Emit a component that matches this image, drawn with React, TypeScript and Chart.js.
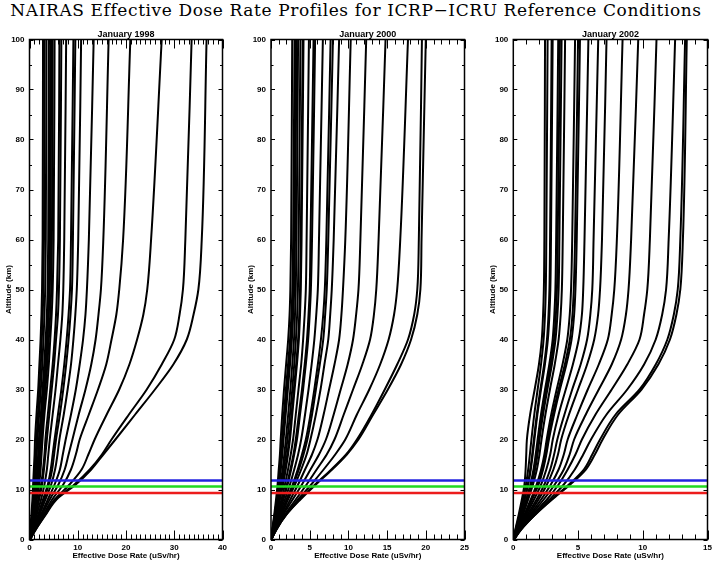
import React, { useEffect, useRef } from 'react';
import { Chart, registerables } from 'chart.js';

Chart.register(...registerables);

// ---------------- data ----------------
const MAIN_TITLE = 'NAIRAS Effective Dose Rate Profiles for ICRP\u2212ICRU Reference Conditions';
const PANEL_TITLES = ['January 1998', 'January 2000', 'January 2002'];
const X_AXIS_TITLE = 'Effective Dose Rate (uSv/hr)';
const Y_AXIS_TITLE = 'Altitude (km)';

const ALTITUDES_KM = [0, 2, 5, 8, 11, 14, 17, 20, 25, 30, 35, 40, 45, 50, 60, 100];

const X_MAX = [40, 25, 15];
const X_MAJOR_STEP = [10, 5, 5];
const X_MINOR_STEP = 1;
const Y_MAX = 100;
const Y_MAJOR_STEP = 10;
const Y_MINOR_STEP = 5;

const REF_LINE_ALTITUDES = [11.8, 10.6, 9.3];
const REF_LINE_COLORS = ['#2323e0', '#22d822', '#ec1c1c'];

// effective dose rate (uSv/hr) at ALTITUDES_KM, one row per profile
const DOSE_1998 = [
  [0.1, 1.3, 3.4, 5.6, 9.6, 12.8, 15.3, 17.8, 21.9, 26.0, 29.8, 32.6, 34.0, 35.0, 35.7, 36.7],
  [0.1, 1.3, 3.3, 5.4, 9.3, 12.5, 15.0, 17.0, 20.6, 24.3, 27.4, 30.0, 31.1, 31.8, 32.3, 33.6],
  [0.1, 1.2, 3.1, 5.2, 8.3, 10.8, 12.2, 13.5, 16.0, 18.6, 20.7, 22.3, 23.6, 24.4, 25.2, 27.4],
  [0.1, 1.1, 2.9, 4.7, 7.0, 8.6, 9.6, 10.4, 12.3, 14.2, 15.9, 17.0, 18.0, 18.6, 19.4, 20.9],
  [0.1, 1.0, 2.6, 4.2, 6.0, 7.3, 8.1, 8.9, 10.2, 11.6, 12.8, 13.7, 14.3, 14.8, 15.3, 16.4],
  [0.1, 0.9, 2.4, 3.8, 5.2, 6.3, 6.9, 7.5, 8.6, 9.6, 10.4, 11.1, 11.6, 11.9, 12.3, 13.3],
  [0.08, 0.8, 2.1, 3.3, 4.5, 5.3, 5.8, 6.2, 7.1, 7.9, 8.6, 9.1, 9.5, 9.8, 10.1, 10.7],
  [0.08, 0.75, 1.9, 3.0, 4.0, 4.7, 5.1, 5.5, 6.3, 7.0, 7.6, 8.1, 8.5, 8.8, 9.0, 9.5],
  [0.08, 0.7, 1.8, 2.8, 3.8, 4.4, 4.8, 5.2, 5.9, 6.6, 7.2, 7.7, 8.1, 8.4, 8.6, 9.1],
  [0.07, 0.6, 1.5, 2.4, 3.1, 3.6, 3.9, 4.2, 4.8, 5.4, 5.9, 6.4, 6.8, 7.0, 7.2, 7.6],
  [0.06, 0.5, 1.3, 2.0, 2.6, 3.0, 3.3, 3.6, 4.1, 4.6, 5.1, 5.5, 5.9, 6.1, 6.3, 6.6],
  [0.06, 0.45, 1.2, 1.8, 2.4, 2.8, 3.1, 3.3, 3.8, 4.3, 4.8, 5.2, 5.5, 5.7, 5.95, 6.2],
  [0.05, 0.4, 1.0, 1.5, 2.0, 2.3, 2.5, 2.7, 3.1, 3.6, 4.0, 4.3, 4.6, 4.8, 5.0, 5.2],
  [0.05, 0.35, 0.9, 1.4, 1.8, 2.1, 2.3, 2.5, 2.9, 3.3, 3.7, 4.0, 4.3, 4.5, 4.65, 4.8],
  [0.05, 0.3, 0.8, 1.25, 1.6, 1.9, 2.1, 2.3, 2.7, 3.1, 3.45, 3.75, 4.0, 4.2, 4.35, 4.5],
  [0.04, 0.28, 0.75, 1.15, 1.5, 1.75, 1.95, 2.15, 2.55, 2.95, 3.3, 3.6, 3.85, 4.0, 4.15, 4.3],
  [0.04, 0.25, 0.68, 1.05, 1.35, 1.6, 1.8, 1.95, 2.35, 2.7, 3.05, 3.35, 3.6, 3.75, 3.88, 4.0],
  [0.04, 0.22, 0.58, 0.9, 1.15, 1.35, 1.5, 1.65, 2.0, 2.35, 2.65, 2.9, 3.1, 3.25, 3.38, 3.5],
  [0.03, 0.18, 0.5, 0.75, 0.95, 1.15, 1.3, 1.45, 1.75, 2.05, 2.35, 2.55, 2.75, 2.88, 3.0, 3.1],
  [0.03, 0.15, 0.4, 0.6, 0.75, 0.9, 1.05, 1.15, 1.45, 1.8, 2.05, 2.3, 2.48, 2.6, 2.72, 2.8],
];

const DOSE_2000 = [
  [0.05, 0.7, 2.0, 3.8, 5.8, 7.9, 9.8, 11.3, 13.2, 15.1, 16.8, 18.1, 18.9, 19.3, 19.45, 20.0],
  [0.05, 0.7, 2.0, 3.7, 5.7, 7.8, 9.7, 11.1, 13.0, 14.7, 16.3, 17.7, 18.5, 18.9, 19.1, 19.5],
  [0.05, 0.7, 1.9, 3.5, 5.2, 6.8, 8.3, 9.6, 11.1, 12.7, 14.1, 15.2, 15.9, 16.3, 16.7, 17.7],
  [0.05, 0.65, 1.8, 3.2, 4.6, 5.9, 7.2, 8.2, 9.4, 10.6, 11.8, 12.8, 13.3, 13.6, 13.9, 14.8],
  [0.05, 0.6, 1.6, 2.8, 4.0, 5.1, 6.2, 7.1, 8.1, 9.0, 9.9, 10.6, 11.0, 11.3, 11.55, 12.3],
  [0.05, 0.55, 1.5, 2.5, 3.5, 4.4, 5.3, 6.0, 6.8, 7.5, 8.2, 8.8, 9.1, 9.3, 9.6, 10.3],
  [0.05, 0.5, 1.35, 2.2, 3.1, 3.9, 4.6, 5.1, 5.8, 6.4, 6.9, 7.4, 7.65, 7.85, 8.1, 8.8],
  [0.05, 0.48, 1.3, 2.1, 2.9, 3.6, 4.2, 4.7, 5.3, 5.8, 6.3, 6.75, 7.0, 7.2, 7.4, 8.0],
  [0.05, 0.46, 1.25, 2.0, 2.8, 3.45, 4.0, 4.5, 5.1, 5.6, 6.05, 6.45, 6.75, 6.95, 7.15, 7.7],
  [0.04, 0.42, 1.1, 1.8, 2.45, 3.0, 3.5, 3.9, 4.4, 4.85, 5.25, 5.6, 5.85, 6.05, 6.2, 6.7],
  [0.04, 0.38, 1.0, 1.6, 2.15, 2.6, 3.0, 3.35, 3.75, 4.15, 4.5, 4.8, 5.0, 5.15, 5.3, 5.7],
  [0.04, 0.36, 0.95, 1.5, 2.05, 2.5, 2.9, 3.2, 3.6, 4.0, 4.35, 4.65, 4.85, 5.0, 5.1, 5.5],
  [0.04, 0.32, 0.85, 1.35, 1.8, 2.2, 2.55, 2.85, 3.2, 3.55, 3.9, 4.15, 4.35, 4.5, 4.6, 4.9],
  [0.03, 0.28, 0.75, 1.15, 1.55, 1.9, 2.2, 2.45, 2.75, 3.05, 3.35, 3.6, 3.75, 3.85, 3.95, 4.2],
  [0.03, 0.27, 0.72, 1.1, 1.5, 1.82, 2.1, 2.35, 2.65, 2.95, 3.25, 3.5, 3.65, 3.75, 3.85, 4.1],
  [0.03, 0.25, 0.66, 1.0, 1.35, 1.65, 1.9, 2.12, 2.45, 2.75, 3.0, 3.22, 3.38, 3.48, 3.58, 3.8],
  [0.03, 0.23, 0.6, 0.92, 1.22, 1.5, 1.72, 1.92, 2.22, 2.5, 2.75, 2.97, 3.1, 3.2, 3.3, 3.5],
  [0.03, 0.21, 0.53, 0.82, 1.06, 1.27, 1.46, 1.62, 1.9, 2.18, 2.46, 2.7, 2.87, 3.0, 3.1, 3.3],
  [0.03, 0.2, 0.5, 0.78, 1.0, 1.2, 1.37, 1.52, 1.77, 2.05, 2.33, 2.58, 2.75, 2.88, 2.98, 3.17],
  [0.03, 0.19, 0.48, 0.74, 0.96, 1.14, 1.3, 1.43, 1.66, 1.92, 2.2, 2.46, 2.64, 2.76, 2.86, 3.04],
  [0.03, 0.17, 0.42, 0.65, 0.85, 1.0, 1.15, 1.25, 1.45, 1.68, 1.95, 2.22, 2.4, 2.5, 2.6, 2.74],
];

const DOSE_2002 = [
  [0.05, 0.6, 1.7, 3.0, 4.4, 5.6, 6.3, 6.9, 8.1, 9.9, 11.2, 12.1, 12.6, 12.9, 13.1, 13.4],
  [0.05, 0.6, 1.7, 2.95, 4.3, 5.45, 6.1, 6.7, 7.9, 9.75, 11.0, 11.9, 12.4, 12.7, 12.9, 13.27],
  [0.05, 0.58, 1.6, 2.8, 3.9, 4.75, 5.4, 6.0, 7.2, 8.8, 10.1, 11.0, 11.5, 11.8, 12.0, 12.5],
  [0.05, 0.55, 1.5, 2.6, 3.5, 4.2, 4.8, 5.3, 6.35, 7.6, 8.8, 9.75, 10.1, 10.35, 10.55, 11.06],
  [0.05, 0.5, 1.4, 2.35, 3.2, 3.9, 4.35, 4.7, 5.6, 6.6, 7.6, 8.33, 8.7, 8.9, 9.1, 9.65],
  [0.05, 0.46, 1.3, 2.15, 2.9, 3.5, 3.9, 4.2, 4.95, 5.75, 6.6, 7.3, 7.6, 7.8, 8.0, 8.44],
  [0.05, 0.43, 1.2, 1.95, 2.6, 3.1, 3.45, 3.7, 4.3, 5.0, 5.7, 6.25, 6.55, 6.7, 6.85, 7.2],
  [0.04, 0.4, 1.1, 1.8, 2.4, 2.85, 3.15, 3.4, 3.95, 4.55, 5.2, 5.7, 5.95, 6.1, 6.2, 6.56],
  [0.04, 0.37, 1.0, 1.6, 2.15, 2.55, 2.85, 3.05, 3.5, 4.05, 4.6, 5.05, 5.3, 5.4, 5.5, 5.8],
  [0.04, 0.34, 0.92, 1.45, 1.95, 2.3, 2.55, 2.75, 3.15, 3.6, 4.1, 4.5, 4.7, 4.8, 4.9, 5.15],
  [0.04, 0.33, 0.9, 1.4, 1.9, 2.25, 2.5, 2.68, 3.05, 3.5, 3.98, 4.37, 4.57, 4.67, 4.77, 5.0],
  [0.04, 0.32, 0.86, 1.35, 1.8, 2.15, 2.4, 2.58, 2.93, 3.35, 3.8, 4.17, 4.36, 4.46, 4.55, 4.77],
  [0.03, 0.28, 0.75, 1.15, 1.52, 1.82, 2.02, 2.18, 2.48, 2.83, 3.2, 3.5, 3.66, 3.75, 3.82, 4.0],
  [0.03, 0.26, 0.7, 1.08, 1.42, 1.68, 1.87, 2.02, 2.3, 2.63, 2.98, 3.26, 3.41, 3.5, 3.56, 3.73],
  [0.03, 0.25, 0.68, 1.04, 1.37, 1.62, 1.8, 1.95, 2.22, 2.54, 2.88, 3.15, 3.29, 3.37, 3.43, 3.6],
  [0.03, 0.24, 0.65, 1.0, 1.32, 1.56, 1.73, 1.88, 2.14, 2.45, 2.78, 3.04, 3.17, 3.25, 3.31, 3.47],
  [0.03, 0.21, 0.57, 0.88, 1.15, 1.35, 1.5, 1.63, 1.86, 2.14, 2.44, 2.67, 2.79, 2.86, 2.91, 3.04],
  [0.03, 0.2, 0.55, 0.85, 1.12, 1.31, 1.46, 1.59, 1.82, 2.09, 2.38, 2.6, 2.72, 2.79, 2.84, 2.96],
  [0.03, 0.18, 0.48, 0.75, 0.98, 1.15, 1.28, 1.4, 1.62, 1.88, 2.14, 2.34, 2.45, 2.51, 2.55, 2.65],
  [0.03, 0.16, 0.42, 0.66, 0.86, 0.95, 1.0, 1.05, 1.3, 1.65, 1.98, 2.2, 2.3, 2.36, 2.4, 2.45],
];

const PANEL_DATA = [DOSE_1998, DOSE_2000, DOSE_2002];

// ---------------- layout ----------------
const W = 712;
const H = 561;
const PLOT_LEFT = [29.5, 271, 513.3];
const PLOT_RIGHT = [222.5, 464.5, 707.5];
const PLOT_TOP = 39.5;
const Y_AXIS_W = 25.5;
const X_AXIS_H = 21.5;
const PANEL_TITLE_SIZE = 9;
const TITLE_BLOCK = PANEL_TITLE_SIZE * 1.2;

Chart.defaults.font.family = "'Liberation Sans', Arial, sans-serif";

const isMultiple = (v: number, step: number) => Math.abs(v / step - Math.round(v / step)) < 1e-6;

function makeFramePlugin(xMajor: number) {
  return {
    id: 'frameTicks',
    afterDatasetsDraw(chart: any) {
      const { ctx, chartArea } = chart;
      const { left, right, top, bottom } = chartArea;
      const xs = chart.scales.x;
      const ys = chart.scales.y;
      ctx.save();
      ctx.strokeStyle = '#000';
      ctx.lineWidth = 1;
      ctx.beginPath();
      xs.ticks.forEach((t: any) => {
        const px = Math.round(xs.getPixelForValue(t.value)) + 0.5;
        const len = isMultiple(t.value, xMajor) ? 9 : 5;
        ctx.moveTo(px, bottom);
        ctx.lineTo(px, bottom - len);
        ctx.moveTo(px, top);
        ctx.lineTo(px, top + len);
      });
      ys.ticks.forEach((t: any) => {
        const py = Math.round(ys.getPixelForValue(t.value)) + 0.5;
        const len = isMultiple(t.value, Y_MAJOR_STEP) ? 4 : 2.5;
        ctx.moveTo(left, py);
        ctx.lineTo(left + len, py);
        ctx.moveTo(right, py);
        ctx.lineTo(right - len, py);
      });
      ctx.stroke();
      ctx.lineWidth = 1.5;
      ctx.strokeRect(left, top, right - left, bottom - top);
      ctx.restore();
    },
  };
}

function Panel({ index }: { index: number }) {
  const ref = useRef<HTMLCanvasElement>(null);
  useEffect(() => {
    const canvas = ref.current;
    if (!canvas) return;
    const datasets: any[] = [];
    REF_LINE_ALTITUDES.forEach((h, k) => {
      datasets.push({
        data: [
          { x: 0, y: h },
          { x: X_MAX[index], y: h },
        ],
        borderColor: REF_LINE_COLORS[k],
        borderWidth: 2.5,
        tension: 0,
        cubicInterpolationMode: 'default',
        pointRadius: 0,
        fill: false,
        order: -1,
      });
    });
    PANEL_DATA[index].forEach((profile) => {
      datasets.push({
        data: profile.map((v, i) => ({ x: v, y: ALTITUDES_KM[i] })),
        borderColor: '#000',
        borderWidth: 2,
        pointRadius: 0,
        fill: false,
        cubicInterpolationMode: 'monotone',
        order: 0,
      });
    });
    const major = X_MAJOR_STEP[index];
    const chart = new Chart(canvas, {
      type: 'line',
      data: { datasets },
      options: {
        responsive: false,
        animation: false,
        indexAxis: 'y',
        events: [],
        layout: {
          padding: {
            left: PLOT_LEFT[index] - Y_AXIS_W,
            right: W - PLOT_RIGHT[index],
            top: PLOT_TOP - TITLE_BLOCK,
            bottom: 0,
          },
        },
        plugins: {
          legend: { display: false },
          tooltip: { enabled: false },
          title: {
            display: true,
            text: PANEL_TITLES[index],
            fullSize: false,
            color: '#000',
            font: { size: PANEL_TITLE_SIZE, weight: 'bold' },
            padding: { top: 0, bottom: 0 },
          },
        },
        scales: {
          x: {
            type: 'linear',
            position: 'bottom',
            min: 0,
            max: X_MAX[index],
            grid: { display: false, drawTicks: false },
            border: { display: false },
            ticks: {
              stepSize: X_MINOR_STEP,
              autoSkip: false,
              maxRotation: 0,
              padding: 3.5,
              color: '#000',
              font: { size: 8, weight: 'bold' },
              callback: (v: any) => (isMultiple(Number(v), major) ? String(v) : ''),
            },
            title: {
              display: true,
              text: X_AXIS_TITLE,
              color: '#000',
              font: { size: 8, weight: 'bold' },
              padding: 0,
            },
            afterFit: (s: any) => {
              s.height = X_AXIS_H;
              s.paddingLeft = 0;
              s.paddingRight = 0;
            },
          },
          y: {
            type: 'linear',
            position: 'left',
            min: 0,
            max: Y_MAX,
            grid: { display: false, drawTicks: false },
            border: { display: false },
            ticks: {
              stepSize: Y_MINOR_STEP,
              autoSkip: false,
              padding: 5,
              color: '#000',
              font: { size: 8, weight: 'bold' },
              callback: (v: any) => (isMultiple(Number(v), Y_MAJOR_STEP) ? String(v) : ''),
            },
            title: {
              display: true,
              text: Y_AXIS_TITLE,
              color: '#000',
              font: { size: 8, weight: 'bold' },
              padding: 0,
            },
            afterFit: (s: any) => {
              s.width = Y_AXIS_W;
              s.paddingTop = 0;
              s.paddingBottom = 0;
            },
          },
        },
      } as any,
      plugins: [makeFramePlugin(major) as any],
    });
    return () => chart.destroy();
  }, [index]);
  return (
    <canvas
      ref={ref}
      width={W}
      height={H}
      style={{ position: 'absolute', left: 0, top: 0, width: W, height: H }}
    />
  );
}

export default function App() {
  return (
    <div
      style={{
        position: 'absolute',
        left: 0,
        top: 0,
        width: W,
        height: H,
        background: '#fff',
        overflow: 'hidden',
      }}
    >
      <div
        style={{
          position: 'absolute',
          left: 0,
          top: 0,
          width: W,
          textAlign: 'center',
          fontFamily: "'DejaVu Serif', serif",
          fontSize: 17,
          letterSpacing: '0.6px',
          lineHeight: '20px',
          color: '#000',
          whiteSpace: 'nowrap',
        }}
      >
        {MAIN_TITLE}
      </div>
      {[0, 1, 2].map((i) => (
        <Panel key={i} index={i} />
      ))}
    </div>
  );
}
